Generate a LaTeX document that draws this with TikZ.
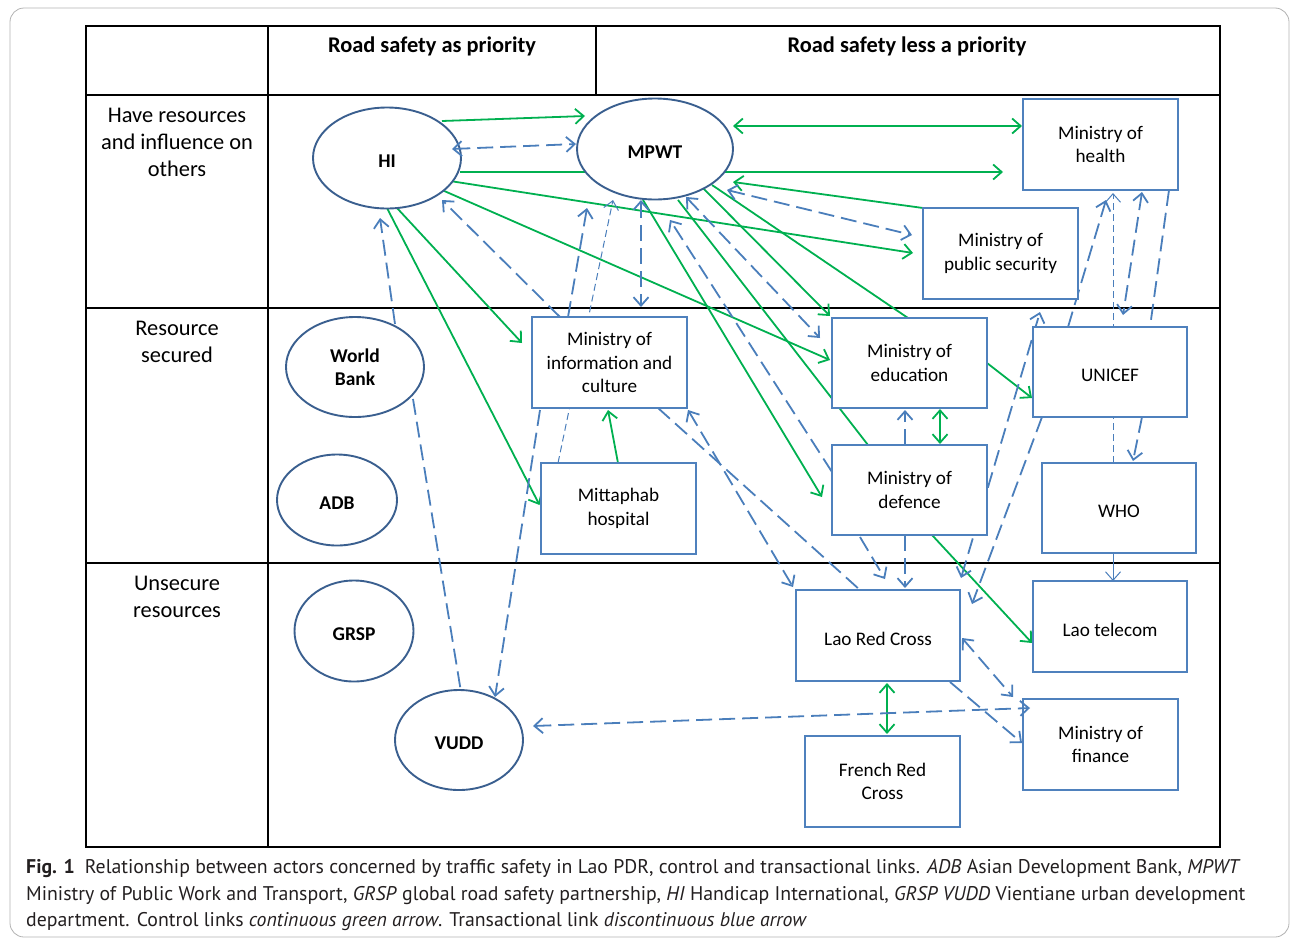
\documentclass[tikz,border=0pt]{standalone}
\usepackage{fontspec}
\setmainfont{Carlito}
\newfontfamily\capfont{PT Sans}
\usetikzlibrary{shapes.geometric,arrows.meta,calc}
\definecolor{gr}{HTML}{00B050}
\definecolor{bl}{HTML}{4A7EBB}
\definecolor{ellc}{HTML}{3A5F8F}
\definecolor{boxc}{HTML}{4F81BD}
\definecolor{captxt}{HTML}{231F20}
\newcommand\lowtxt[1]{\raisebox{-3pt}[\height][\depth]{#1}}
\pgfdeclarelayer{tab}
\pgfdeclarelayer{edges}
\pgfdeclarelayer{top}
\pgfsetlayers{tab,edges,main,top}
\begin{document}
\begin{tikzpicture}[x=1pt,y=-1pt,
  ell/.style={ellipse,draw=ellc,line width=1.9pt,fill=white,inner sep=0pt,
    font=\fontsize{19.5}{23}\selectfont\bfseries,align=center},
  bx/.style={rectangle,draw=boxc,line width=1.1pt,fill=white,minimum width=155pt,
    minimum height=91pt,inner sep=0pt,font=\fontsize{19.2}{23.5}\selectfont,align=center},
  ctl/.style={draw=gr,line width=1.8pt},
  trn/.style={draw=bl,line width=1.8pt,dash pattern=on 16pt off 7pt},
  thindash/.style={draw=bl,line width=1pt,dash pattern=on 7pt off 4pt},
  thinsolid/.style={draw=bl,line width=1pt},
  tbl/.style={draw=black,line width=1.5pt},
  hdr/.style={font=\fontsize{22.4}{26}\selectfont\bfseries},
  rowlab/.style={font=\fontsize{22.4}{27}\selectfont,align=center},
  captext/.style={anchor=base west,text=captxt,font=\capfont\fontsize{19.8}{24}\selectfont,inner sep=0pt},
  >={Straight Barb[length=8.5pt,width=15pt]},
]
\useasboundingbox (0,0) rectangle (1292,940);

% ---------- table ----------
\begin{pgfonlayer}{tab}
\draw[gray!60,line width=0.8pt,rounded corners=14pt] (10,8) rectangle (1289,937);
\draw[tbl] (86,26) rectangle (1220,847);
\draw[tbl] (268,26) -- (268,847);
\draw[tbl] (596,26) -- (596,95);
\draw[tbl] (86,95) -- (1220,95);
\draw[tbl] (86,308) -- (1220,308);
\draw[tbl] (86,563) -- (1220,563);
\end{pgfonlayer}

\node[hdr] (h1) at (432,46) {Road safety as priority};
\node[hdr] (h2) at (907,46) {Road safety less a priority};
\node[rowlab] (r1) at (177,142) {Have resources\\and influence on\\others};
\node[rowlab] (r2) at (177,341.5) {Resource\\secured};
\node[rowlab] (r3) at (177,596.5) {Unsecure\\resources};

% ---------- actors ----------
\node[ell,minimum width=148pt,minimum height=101pt] (HI) at (387,158) {\lowtxt{HI}};
\node[ell,minimum width=156pt,minimum height=101pt] (MPWT) at (655,149) {\lowtxt{MPWT}};
\node[ell,minimum width=138pt,minimum height=100pt] (WB) at (355,367) {World\\Bank};
\node[ell,minimum width=120pt,minimum height=91pt] (ADB) at (337,500) {\lowtxt{ADB}};
\node[ell,minimum width=119pt,minimum height=101pt] (GRSP) at (354,631) {\lowtxt{GRSP}};
\node[ell,minimum width=128pt,minimum height=100pt] (VUDD) at (459,740) {\lowtxt{VUDD}};

\node[bx] (health) at (1100.5,144.5) {Ministry of\\health};
\node[bx] (pubsec) at (1000.5,253.5) {Ministry of\\public security};
\node[bx] (info) at (609.5,362.5) {Ministry of\\information and\\culture};
\node[bx] (mitta) at (618.5,508.5) {Mittaphab\\hospital};
\node[bx,minimum height=90pt] (edu) at (909.5,363) {Ministry of\\education};
\node[bx,minimum height=90pt] (def) at (909.5,490) {Ministry of\\defence};
\node[bx,minimum width=154pt,minimum height=90pt] (unicef) at (1110,372) {\lowtxt{UNICEF}};
\node[bx,minimum width=154pt,minimum height=90pt] (who) at (1119,508) {\lowtxt{WHO}};
\node[bx,minimum width=164pt] (lrc) at (878,635.5) {\lowtxt{Lao Red Cross}};
\node[bx,minimum width=154pt] (tel) at (1110,626.5) {\lowtxt{Lao telecom}};
\node[bx] (fin) at (1100.5,744.5) {Ministry of\\finance};
\node[bx] (frc) at (882.5,781.5) {French Red\\Cross};

% ---------- control links (green) ----------
\begin{pgfonlayer}{edges}
\draw[ctl,->] ($(HI)+(55,-37)$) -- ($(MPWT)+(-70,-33)$);
\draw[ctl,->] ($(HI)+(73,14)$) -- ($(health)+(-97.5,27.5)$);
\draw[ctl,<->] ($(MPWT)+(78,-23)$) -- ($(health)+(-78.5,-18.5)$);
\draw[ctl,->] ($(pubsec)+(-77.5,-45.5)$) -- ($(MPWT)+(78,33)$);
\draw[ctl,->] ($(HI)+(63,23)$) -- ($(pubsec)+(-87.5,-0.5)$);
\draw[ctl,->] ($(HI)+(55,32)$) -- ($(edu)+(-79.5,-3)$);
\draw[ctl,->] ($(HI)+(10,50)$) -- ($(info)+(-87.5,-19.5)$);
\draw[ctl,->] ($(HI)+(0,50)$) -- ($(mitta)+(-79,-3.5)$);
\draw[ctl,->] ($(mitta)+(-0.5,-45.5)$) -- ($(info)+(-1.5,47.5)$);
\draw[ctl,->] ($(MPWT)+(-12,51)$) -- ($(def)+(-87.5,7)$);
\draw[ctl] ($(MPWT)+(23,51)$) -- ($(def)+(-41.5,-45)$);
\draw[ctl,->] ($(MPWT)+(42,33)$) -- ($(edu)+(-79.5,-47)$);
\draw[ctl] ($(MPWT)+(57,36)$) -- ($(edu)+(-1.5,-45)$);
\draw[ctl,->] ($(edu)+(77.5,0)$) -- ($(unicef)+(-78,26)$);
\draw[ctl,<->] ($(edu)+(30.5,46)$) -- ($(def)+(30.5,-46)$);
\draw[ctl,->] ($(def)+(22.5,45)$) -- ($(tel)+(-78,16.5)$);
\draw[ctl,<->] ($(lrc)+(9,47.5)$) -- ($(frc)+(4.5,-47.5)$);

% ---------- transactional links (blue) ----------
\draw[trn,->] ($(WB)+(40,-43)$) -- ($(HI)+(-7,60)$);
\draw[trn] ($(WB)+(58,32)$) -- ($(VUDD)+(2,-48)$);
\draw[trn,->] ($(info)+(-69.5,47.5)$) -- ($(VUDD)+(36,-43)$);
\draw[trn,->] ($(info)+(-49.5,-45.5)$) -- ($(HI)+(55,42)$);
\draw[trn,->] ($(info)+(-41.5,-45.5)$) -- ($(MPWT)+(-68,59)$);
\draw[thindash,->] ($(mitta)+(-60.5,-45.5)$) -- ($(MPWT)+(-42,51)$);
\draw[trn,<->] ($(MPWT)+(-14,51)$) -- ($(info)+(31.5,-55.5)$);
\draw[trn,<->] ($(info)+(78.5,47.5)$) -- ($(lrc)+(-85,-48.5)$);
\draw[trn] ($(info)+(48.5,45.5)$) -- ($(lrc)+(-18,-45.5)$);
\draw[trn,<->] ($(MPWT)+(31,48)$) -- ($(edu)+(-89.5,-25)$);
\draw[trn,->] ($(def)+(-77.5,-18)$) -- ($(MPWT)+(15,71)$);
\draw[trn,->] ($(def)+(-49.5,47)$) -- ($(lrc)+(7,-56.5)$);
\draw[trn,->] ($(def)+(-4.5,45)$) -- ($(lrc)+(27,-47.5)$);
\draw[trn,->] ($(def)+(-4.5,-45)$) -- ($(edu)+(-4.5,47)$);
\draw[trn,<->] ($(lrc)+(83,-57.5)$) -- ($(unicef)+(-70,-60)$);
\draw[trn,->] ($(unicef)+(-68,45)$) -- ($(lrc)+(94,-31.5)$);
\draw[trn,->] ($(unicef)+(-42,-45)$) -- ($(health)+(5.5,55.5)$);
\draw[trn,<->] ($(health)+(41.5,47.5)$) -- ($(unicef)+(13,-57)$);
\draw[thindash,->] ($(who)+(-6,-45)$) -- ($(health)+(12.5,48.5)$);
\draw[trn] ($(health)+(68.5,45.5)$) -- ($(unicef)+(40,-45)$);
\draw[trn,->] ($(unicef)+(32,45)$) -- ($(who)+(14,-47)$);
\draw[thinsolid,->] ($(who)+(-6,46)$) -- ($(tel)+(3,-45.5)$);
\draw[trn,<->] ($(lrc)+(84,2.5)$) -- ($(fin)+(-87.5,-47.5)$);
\draw[trn,->] ($(lrc)+(72,46.5)$) -- ($(fin)+(-78.5,-1.5)$);
\draw[trn,<->] ($(MPWT)+(72,41)$) -- ($(pubsec)+(-88.5,-18.5)$);
\end{pgfonlayer}
\begin{pgfonlayer}{top}
\draw[trn,<->] ($(HI)+(65,-9)$) -- ($(MPWT)+(-79,-5)$);
\draw[trn,<->] ($(VUDD)+(74,-14)$) -- ($(fin)+(-70.5,-36.5)$);
\end{pgfonlayer}

% ---------- caption ----------
\node[captext] (c1) at (26,873) {\textbf{Fig. 1}\enspace Relationship between actors concerned by traffic safety in Lao PDR, control and transactional links. \textit{ADB} Asian Development Bank, \textit{MPWT}};
\node[captext] (c2) at (26,900) {Ministry of Public Work and Transport, \textit{GRSP} global road safety partnership, \textit{HI} Handicap International, \textit{GRSP VUDD} Vientiane urban development};
\node[captext] (c3) at (26,926) {department. Control links \textit{continuous green arrow}. Transactional link \textit{discontinuous blue arrow}};
\end{tikzpicture}
\end{document}
